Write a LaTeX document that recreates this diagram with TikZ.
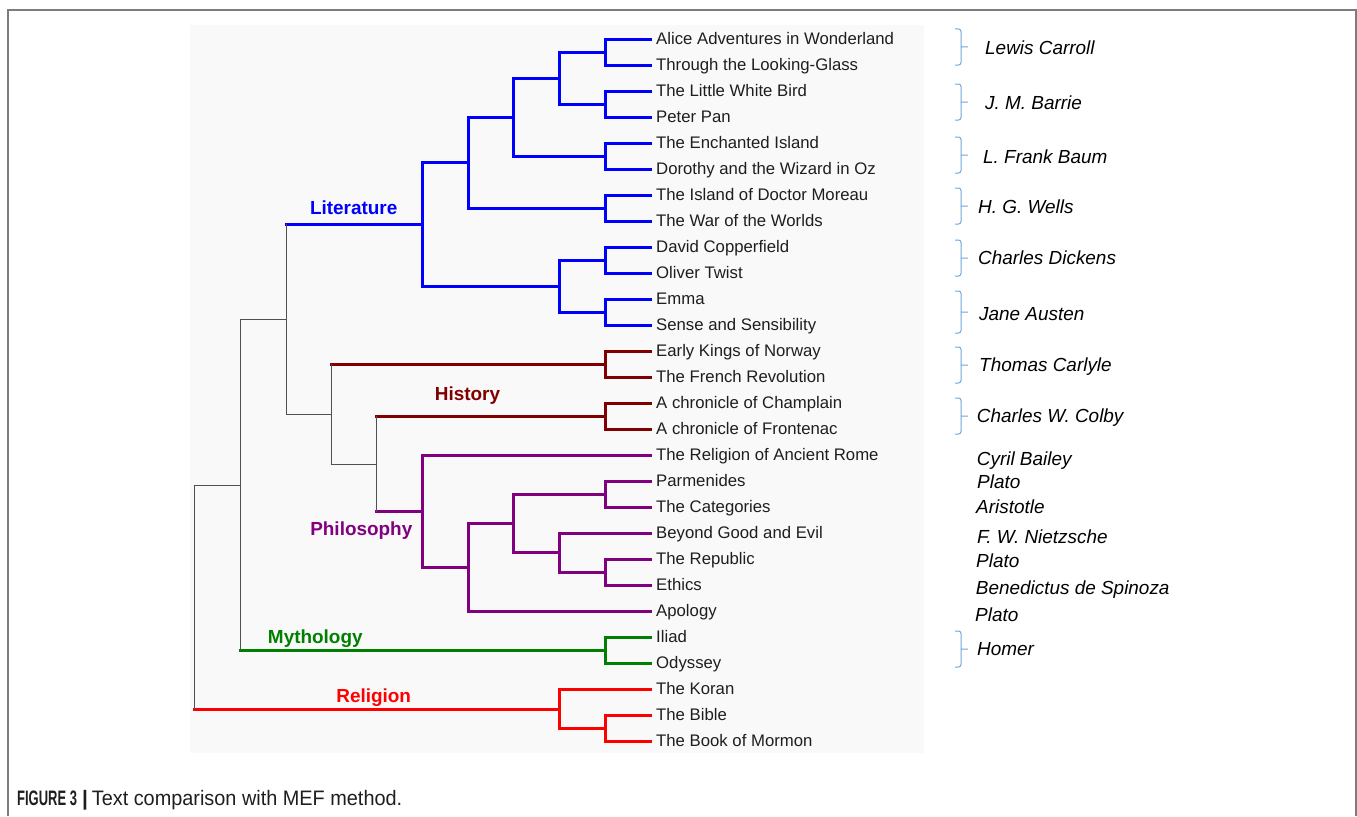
\documentclass[tikz,border=0pt]{standalone}
\usepackage{fontspec}
\setmainfont{Liberation Sans}
\usetikzlibrary{positioning}
\definecolor{litblue}{RGB}{0,0,255}
\definecolor{histred}{RGB}{128,0,0}
\definecolor{philpurple}{RGB}{128,0,128}
\definecolor{mythgreen}{RGB}{0,128,0}
\definecolor{relred}{RGB}{255,0,0}
\definecolor{trunkgray}{RGB}{80,80,80}
\definecolor{panelgray}{RGB}{249,249,249}
\definecolor{framegray}{RGB}{125,125,125}
\definecolor{braceblue}{RGB}{110,165,220}
\definecolor{leafink}{RGB}{30,30,30}
\tikzstyle{leaf}=[anchor=west,inner sep=0pt,text height=9.2pt,text depth=0pt,text=leafink,font=\fontsize{16.8}{18}\selectfont]
\tikzstyle{writer}=[anchor=west,inner sep=0pt,text height=13.6pt,text depth=0pt,font=\fontsize{19}{22}\selectfont\itshape]
\tikzstyle{topic}=[inner sep=0pt,text height=13.6pt,text depth=0pt,font=\fontsize{19}{22}\selectfont\bfseries]
\tikzstyle{branch}=[line width=3bp,line cap=rect]
\tikzstyle{litline}=[branch,draw=litblue]
\tikzstyle{histline}=[branch,draw=histred]
\tikzstyle{philline}=[branch,draw=philpurple]
\tikzstyle{mythline}=[branch,draw=mythgreen]
\tikzstyle{relline}=[branch,draw=relred]
\tikzstyle{trunk}=[line width=1.5bp,line cap=rect,draw=trunkgray]
\tikzstyle{brace}=[line width=1bp,draw=braceblue,rounded corners=2.5bp]

\begin{document}
\begin{tikzpicture}[x=1bp,y=-1bp]
\useasboundingbox (0,0) rectangle (1357,816);
\draw[framegray,line width=1.5bp] (8,816) -- (8,10) -- (1356,10) -- (1356,816);
\fill[panelgray] (190,25) rectangle (924,753);

\foreach \i/\t in {1/Alice Adventures in Wonderland, 2/Through the Looking-Glass,
                   3/The Little White Bird, 4/Peter Pan, 5/The Enchanted Island,
                   6/Dorothy and the Wizard in Oz, 7/The Island of Doctor Moreau,
                   8/The War of the Worlds, 9/David Copperfield, 10/Oliver Twist,
                   11/Emma, 12/Sense and Sensibility, 13/Early Kings of Norway,
                   14/The French Revolution, 15/A chronicle of Champlain,
                   16/A chronicle of Frontenac, 17/The Religion of Ancient Rome,
                   18/Parmenides, 19/The Categories, 20/Beyond Good and Evil,
                   21/The Republic, 22/Ethics, 23/Apology, 24/Iliad, 25/Odyssey,
                   26/The Koran, 27/The Bible, 28/The Book of Mormon} {
  \node[leaf] (L-\i) at (656,{13.5+26*\i}) {\t};
  \coordinate (E-\i) at ([xshift=-5.5bp]L-\i.west);
}

\foreach \name/\x/\y in {c1/605.5/52.5, c2/605.5/104.5, c3/559.5/78.5, c4/605.5/156.5,
                         c5/513.5/117.5, c6/605.5/208.5, c7/468.5/162.5, c8/605.5/260.5,
                         c9/605.5/312.5, c10/559.5/286.5, lit/422.5/224.5,
                         h1/605.5/364.5, h2/605.5/416.5, p1/605.5/494.5, p2/605.5/572.5,
                         p3/559.5/552.5, p4/513.5/523.5, p5/468.5/567.5, phil/422.5/511.5,
                         g1/376.5/464.5, g2/331.5/414.5, g3/286.5/319.5, m1/605.5/650.5,
                         g4/240.5/485.5, r1/605.5/728.5, r2/559.5/709.5, root/194.5/597.5}
  \coordinate (\name) at (\x,\y);

\foreach \kid/\up/\sty in {E-1/c1/litline, E-2/c1/litline, E-3/c2/litline, E-4/c2/litline,
                           c1/c3/litline, c2/c3/litline, E-5/c4/litline, E-6/c4/litline,
                           c3/c5/litline, c4/c5/litline, E-7/c6/litline, E-8/c6/litline,
                           c5/c7/litline, c6/c7/litline, E-9/c8/litline, E-10/c8/litline,
                           E-11/c9/litline, E-12/c9/litline, c8/c10/litline, c9/c10/litline,
                           c7/lit/litline, c10/lit/litline, lit/g3/litline,
                           E-13/h1/histline, E-14/h1/histline, E-15/h2/histline,
                           E-16/h2/histline, h1/g2/histline, h2/g1/histline,
                           E-17/phil/philline, E-18/p1/philline, E-19/p1/philline,
                           E-20/p3/philline, E-21/p2/philline, E-22/p2/philline,
                           p2/p3/philline, p1/p4/philline, p3/p4/philline, p4/p5/philline,
                           E-23/p5/philline, p5/phil/philline, phil/g1/philline,
                           g1/g2/trunk, g2/g3/trunk, g3/g4/trunk,
                           E-24/m1/mythline, E-25/m1/mythline, m1/g4/mythline,
                           E-26/r2/relline, E-27/r1/relline, E-28/r1/relline,
                           r1/r2/relline, r2/root/relline, g4/root/trunk}
  \draw[\sty] (\kid) -- (\kid -| \up);

\foreach \j/\a/\b/\sty in {c1/E-1/E-2/litline, c2/E-3/E-4/litline, c3/c1/c2/litline,
                           c4/E-5/E-6/litline, c5/c3/c4/litline, c6/E-7/E-8/litline,
                           c7/c5/c6/litline, c8/E-9/E-10/litline, c9/E-11/E-12/litline,
                           c10/c8/c9/litline, lit/c7/c10/litline,
                           h1/E-13/E-14/histline, h2/E-15/E-16/histline,
                           p1/E-18/E-19/philline, p2/E-21/E-22/philline,
                           p3/E-20/p2/philline, p4/p1/p3/philline, p5/p4/E-23/philline,
                           phil/E-17/p5/philline, g1/h2/phil/trunk, g2/h1/g1/trunk,
                           g3/lit/g2/trunk, g4/g3/m1/trunk, root/g4/r2/trunk,
                           m1/E-24/E-25/mythline, r1/E-27/E-28/relline, r2/E-26/r1/relline}
  \draw[\sty] (\a -| \j) -- (\b -| \j);

\node[topic,text=litblue] (T-lit) at (353.7,208) {Literature};
\node[topic,text=histred] (T-hist) at (467.5,394) {History};
\node[topic,text=philpurple] (T-phil) at (361.3,528.7) {Philosophy};
\node[topic,text=mythgreen] (T-myth) at (315.3,636.3) {Mythology};
\node[topic,text=relred] (T-rel) at (373.7,695.5) {Religion};

\foreach \y/\h in {47/18, 102/18, 155/18, 206/18, 258/18, 312/21, 365/18, 416/18, 649/18}
  \draw[brace] (955,{\y-\h}) -- (961,{\y-\h}) -- (961,{\y+\h}) -- (955,{\y+\h})
               (961,\y) -- (968,\y);

\foreach \n/\x/\y/\t in {1/985/47.5/Lewis Carroll, 2/985/103/J. M. Barrie,
                         3/983/156.3/L. Frank Baum, 4/978/207/H. G. Wells,
                         5/978/257.8/Charles Dickens, 6/979/314/Jane Austen,
                         7/979/364.7/Thomas Carlyle, 8/976.7/415.3/Charles W. Colby,
                         9/976.7/458.3/Cyril Bailey, 10/977/481.7/Plato,
                         11/976/506.7/Aristotle, 12/977/536.7/F. W. Nietzsche,
                         13/976/560.7/Plato, 14/975.7/587.3/Benedictus de Spinoza,
                         15/975/614.3/Plato, 16/977/648.3/Homer}
  \node[writer] (W-\n) at (\x,\y) {\t};

\node[anchor=west,inner sep=0pt,text height=15pt,text depth=0pt,text=leafink,
      font=\fontsize{21}{24}\selectfont] (caption) at (17,798)
  {\scalebox{0.62}[1]{\bfseries FIGURE 3}\hspace{5pt}{\bfseries|}\hspace{4pt}\scalebox{0.95}[1]{Text comparison with MEF method.}};
\end{tikzpicture}
\end{document}
